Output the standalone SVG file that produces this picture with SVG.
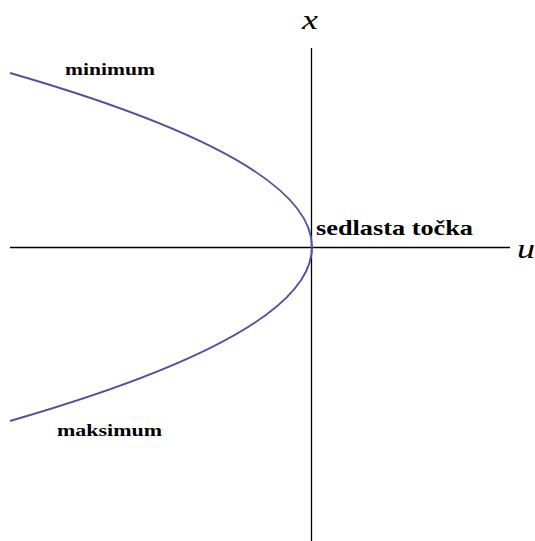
<svg xmlns="http://www.w3.org/2000/svg" width="535" height="541" viewBox="0 0 535 541">
<style>
.ax{stroke:#000;stroke-width:1.3;fill:none}
.lbl{font-family:"Liberation Serif","Times New Roman","DejaVu Serif",serif;font-weight:bold;fill:#000}
.var{font-family:"Liberation Serif","Times New Roman","DejaVu Serif",serif;font-style:italic;fill:#000}
</style>
<rect width="535" height="541" fill="#fff"/>
<g id="connectors">
<line class="ax" x1="311.5" y1="48" x2="311.5" y2="541"/>
<line class="ax" x1="10" y1="247.5" x2="510" y2="247.5"/>
</g>
<g id="curve">
<path d="M10,73 Q614,247 10,421" fill="none" stroke="#5252a3" stroke-width="2"/>
</g>
<g id="axis-x"><text class="var" x="302" y="29" font-size="28" textLength="16" lengthAdjust="spacingAndGlyphs">x</text></g>
<g id="axis-u"><text class="var" x="517" y="258" font-size="28" textLength="18" lengthAdjust="spacingAndGlyphs">u</text></g>
<g id="minimum"><text class="lbl" x="65" y="75" font-size="17" textLength="90" lengthAdjust="spacingAndGlyphs">minimum</text></g>
<g id="maksimum"><text class="lbl" x="57" y="436" font-size="17" textLength="105" lengthAdjust="spacingAndGlyphs">maksimum</text></g>
<g id="sedlasta"><text class="lbl" x="316" y="235" font-size="22" textLength="157" lengthAdjust="spacingAndGlyphs">sedlasta točka</text></g>
</svg>
